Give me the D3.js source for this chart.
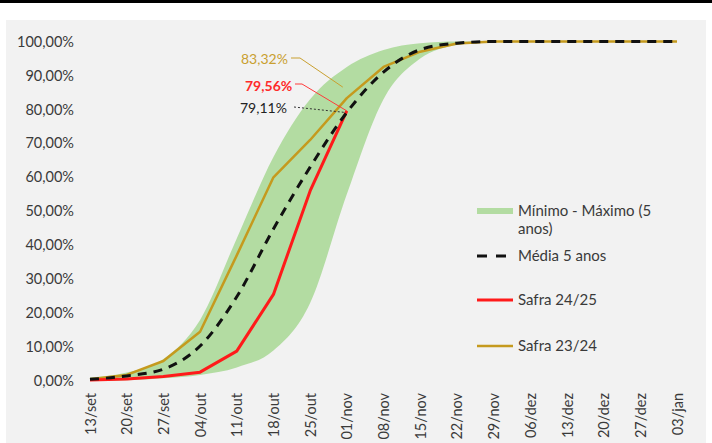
<!DOCTYPE html>
<html>
<head>
<meta charset="utf-8">
<script src="https://cdn.jsdelivr.net/npm/d3@7"></script>
<style>
  html, body { margin: 0; padding: 0; background: #ffffff; }
  svg { display: block; font-family: Lato, "Open Sans", sans-serif; }
</style>
</head>
<body>
<svg id="chart" width="712" height="443"></svg>
<script>
// ---- data ----
const categories = ["13/set","20/set","27/set","04/out","11/out","18/out","25/out","01/nov","08/nov","15/nov","22/nov","29/nov","06/dez","13/dez","20/dez","27/dez","03/jan"];
const minimo    = [0, 0.2, 0.8, 1.8, 4, 9, 23, 55, 83, 95, 99, 100, 100, 100, 100, 100, 100];
const maximo    = [1, 2.5, 6.5, 18, 42, 66, 83, 92.5, 97.5, 99.5, 100, 100, 100, 100, 100, 100, 100];
const media     = [0.5, 1.5, 3.5, 10.3, 24.8, 44.8, 63, 79.11, 91, 97.6, 99.5, 100, 100, 100, 100, 100, 100];
const safra2425 = [0.3, 0.6, 1.3, 2.6, 8.8, 25.5, 56, 79.56];
const safra2324 = [0.5, 1.8, 5.9, 14.5, 37, 60, 71, 83.32, 92.5, 97, 99.4, 100, 100, 100, 100, 100, 100];
const yTicks = [0, 10, 20, 30, 40, 50, 60, 70, 80, 90, 100];
const legendLabels = [["Mínimo - Máximo (5", "anos)"], ["Média 5 anos"], ["Safra 24/25"], ["Safra 23/24"]];
const annotations = [
  {label: "83,32%", series: "s2324", idx: 7},
  {label: "79,56%", series: "s2425", idx: 7},
  {label: "79,11%", series: "media", idx: 7}
];

const colors = { band: "#b3dca2", media: "#111111", s2425: "#ff1a1a", s2324: "#c59a1e", text: "#3a3a3a" };

const svg = d3.select("#chart");

// background
svg.append("rect").attr("x", 0).attr("y", 0).attr("width", 712).attr("height", 443).attr("fill", "#ffffff");
svg.append("rect").attr("x", 0).attr("y", 0).attr("width", 712).attr("height", 3).attr("fill", "#000000");
svg.append("rect").attr("x", 6).attr("y", 20).attr("width", 700).attr("height", 423).attr("fill", "#f2f2f2");

const x = d3.scalePoint().domain(categories).range([90, 677]);
const y = d3.scaleLinear().domain([0, 100]).range([381, 41.5]);

// band
const bandData = categories.map((c, i) => ({c, lo: minimo[i], hi: maximo[i]}));
svg.append("path")
  .datum(bandData)
  .attr("fill", colors.band)
  .attr("d", d3.area().curve(d3.curveMonotoneX).x(d => x(d.c)).y0(d => y(d.lo)).y1(d => y(d.hi)));

const line = d3.line().x(d => x(d.c)).y(d => y(d.v));
const toPts = arr => arr.map((v, i) => ({c: categories[i], v}));

svg.append("path").datum(toPts(safra2324))
  .attr("fill", "none").attr("stroke", colors.s2324).attr("stroke-width", 2.5)
  .attr("stroke-linejoin", "round").attr("d", line);
svg.append("path").datum(toPts(safra2425))
  .attr("fill", "none").attr("stroke", colors.s2425).attr("stroke-width", 3)
  .attr("stroke-linejoin", "round").attr("d", line);
svg.append("path").datum(toPts(media))
  .attr("fill", "none").attr("stroke", colors.media).attr("stroke-width", 3)
  .attr("stroke-dasharray", "9,7").attr("d", line.curve(d3.curveMonotoneX));

// y axis labels
const yAxis = d3.axisLeft(y).tickValues(yTicks).tickSize(0).tickPadding(0)
  .tickFormat(d => d.toFixed(2).replace(".", ",") + "%");
const gy = svg.append("g").attr("transform", "translate(74,0)").call(yAxis);
gy.select(".domain").remove();
gy.selectAll("text").attr("font-size", 14.5).attr("fill", colors.text).attr("font-family", "Lato, sans-serif");

// x axis labels
const xAxis = d3.axisBottom(x).tickSize(0).tickPadding(0);
const gx = svg.append("g").attr("transform", "translate(0,393)").call(xAxis);
gx.select(".domain").remove();
gx.selectAll("text")
  .attr("font-size", 14.5).attr("fill", colors.text).attr("font-family", "Lato, sans-serif")
  .attr("transform", "rotate(-90)")
  .attr("text-anchor", "end")
  .attr("dy", "0.35em")
  .attr("x", 0).attr("y", 0);

// annotations
const seriesMap = { s2324: safra2324, s2425: safra2425, media: media };
const annLayout = [
  {tx: 241, ty: 59, color: "#c9a030", weight: 400, path: (px, py) => `M291,58 L300,58 L${px-4},${py-11}`, dash: null, lineColor: "#c9a030"},
  {tx: 245, ty: 86, color: "#ff2a2a", weight: 700, path: (px, py) => `M295,84 L302,84 L${px},${py}`, dash: null, lineColor: "#ff3b3b"},
  {tx: 240, ty: 108, color: "#222222", weight: 400, path: (px, py) => `M294,107 L${px-2},${py}`, dash: "2,2", lineColor: "#333333"}
];
annotations.forEach((a, k) => {
  const L = annLayout[k];
  const v = seriesMap[a.series][a.idx];
  const px = x(categories[a.idx]), py = y(v);
  svg.append("path").attr("d", L.path(px, py)).attr("fill", "none")
    .attr("stroke", L.lineColor).attr("stroke-width", 1)
    .attr("stroke-dasharray", L.dash);
  svg.append("text").attr("x", L.tx).attr("y", L.ty).attr("dy", "0.35em")
    .attr("font-size", 14).attr("font-weight", L.weight).attr("fill", L.color)
    .text(a.label);
});

// legend
const lg = svg.append("g");
const legendY = [211, 256, 300, 346];
const lx0 = 477, lx1 = 513;
lg.append("rect").attr("x", lx0).attr("y", legendY[0] - 3).attr("width", lx1 - lx0).attr("height", 6).attr("fill", colors.band);
lg.append("line").attr("x1", lx0).attr("x2", lx1).attr("y1", legendY[1]).attr("y2", legendY[1])
  .attr("stroke", colors.media).attr("stroke-width", 3).attr("stroke-dasharray", "10,9");
lg.append("line").attr("x1", lx0).attr("x2", lx1).attr("y1", legendY[2]).attr("y2", legendY[2])
  .attr("stroke", colors.s2425).attr("stroke-width", 3);
lg.append("line").attr("x1", lx0).attr("x2", lx1).attr("y1", legendY[3]).attr("y2", legendY[3])
  .attr("stroke", colors.s2324).attr("stroke-width", 2.5);
legendLabels.forEach((lines, i) => {
  const t = lg.append("text").attr("x", 518).attr("y", legendY[i])
    .attr("font-size", 15).attr("fill", colors.text);
  lines.forEach((ln, j) => {
    t.append("tspan").attr("x", 518).attr("dy", j === 0 ? "0.35em" : "1.2em").text(ln);
  });
});
</script>
</body>
</html>
